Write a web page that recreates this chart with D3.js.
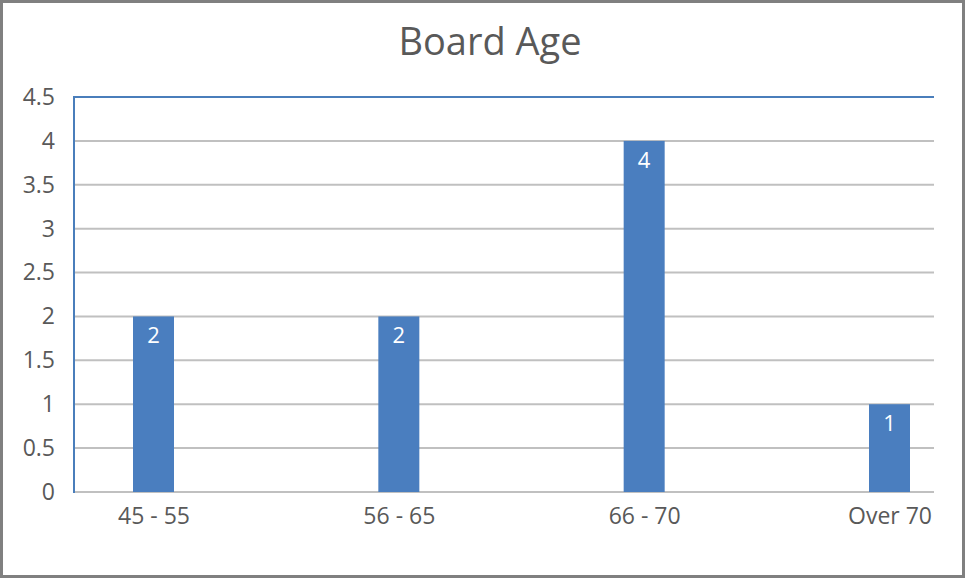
<!DOCTYPE html>
<html>
<head>
<meta charset="utf-8">
<script src="https://cdn.jsdelivr.net/npm/d3@7"></script>
<style>
body { margin: 0; background: #fff; }
text { font-family: "Open Sans", "Liberation Sans", sans-serif; }
</style>
</head>
<body>
<div id="chart"></div>
<script>
// chart data
var categories = ["45 - 55", "56 - 65", "66 - 70", "Over 70"];
var counts = [2, 2, 4, 1];
var yTicks = [0, 0.5, 1, 1.5, 2, 2.5, 3, 3.5, 4, 4.5];
var title = "Board Age";

var width = 966, height = 580;
var plotLeft = 74, plotRight = 934, plotTop = 97, plotBottom = 492;
var barWidth = 41;
var labelSize = "23px";

var svg = d3.select("#chart").append("svg")
    .attr("width", width)
    .attr("height", height);

svg.append("rect")
    .attr("x", 1.5).attr("y", 1.5)
    .attr("width", 962).attr("height", 575)
    .attr("fill", "#fff")
    .attr("stroke", "#808080")
    .attr("stroke-width", 3);

var x = d3.scalePoint()
    .domain(categories)
    .range([plotLeft + 79.5, plotRight - 44.5]);

var y = d3.scaleLinear()
    .domain([0, 4.5])
    .range([plotBottom, plotTop]);

// gridlines
svg.append("g").selectAll("line")
    .data(yTicks)
    .enter().append("line")
    .attr("x1", plotLeft).attr("x2", plotRight)
    .attr("y1", function(d){ return y(d); })
    .attr("y2", function(d){ return y(d); })
    .attr("stroke", function(d){ return d === 4.5 ? "#4a7ebb" : "#c0c0c0"; })
    .attr("stroke-width", 2);

// y axis line
svg.append("line")
    .attr("x1", plotLeft).attr("x2", plotLeft)
    .attr("y1", plotTop - 1).attr("y2", plotBottom + 1)
    .attr("stroke", "#4a7ebb")
    .attr("stroke-width", 2);

// y tick labels
var yAxis = d3.axisLeft(y).tickValues(yTicks).tickSize(0).tickPadding(0)
    .tickFormat(function(d){ return d; });
var gy = svg.append("g")
    .attr("transform", "translate(" + 55 + ",0)")
    .call(yAxis);
gy.select(".domain").remove();
gy.selectAll("text")
    .attr("fill", "#595959")
    .style("font-size", labelSize);

// bars
svg.append("g").selectAll("rect")
    .data(counts)
    .enter().append("rect")
    .attr("x", function(d, i){ return x(categories[i]) - barWidth / 2; })
    .attr("width", barWidth)
    .attr("y", function(d){ return y(d); })
    .attr("height", function(d){ return y(0) - y(d); })
    .attr("fill", "#4a7ebf");

// data labels
svg.append("g").selectAll("text")
    .data(counts)
    .enter().append("text")
    .attr("x", function(d, i){ return x(categories[i]); })
    .attr("y", function(d){ return y(d) + 27; })
    .attr("text-anchor", "middle")
    .attr("fill", "#fff")
    .style("font-size", "22px")
    .text(function(d){ return d; });

// x axis labels
var xAxis = d3.axisBottom(x).tickSize(0).tickPadding(0);
var gx = svg.append("g")
    .attr("transform", "translate(0," + 508 + ")")
    .call(xAxis);
gx.select(".domain").remove();
gx.selectAll("text")
    .attr("fill", "#595959")
    .style("font-size", labelSize);

// title
svg.append("text")
    .attr("x", 490)
    .attr("y", 55)
    .attr("text-anchor", "middle")
    .attr("fill", "#595959")
    .style("font-size", "38px")
    .text(title);
</script>
</body>
</html>
